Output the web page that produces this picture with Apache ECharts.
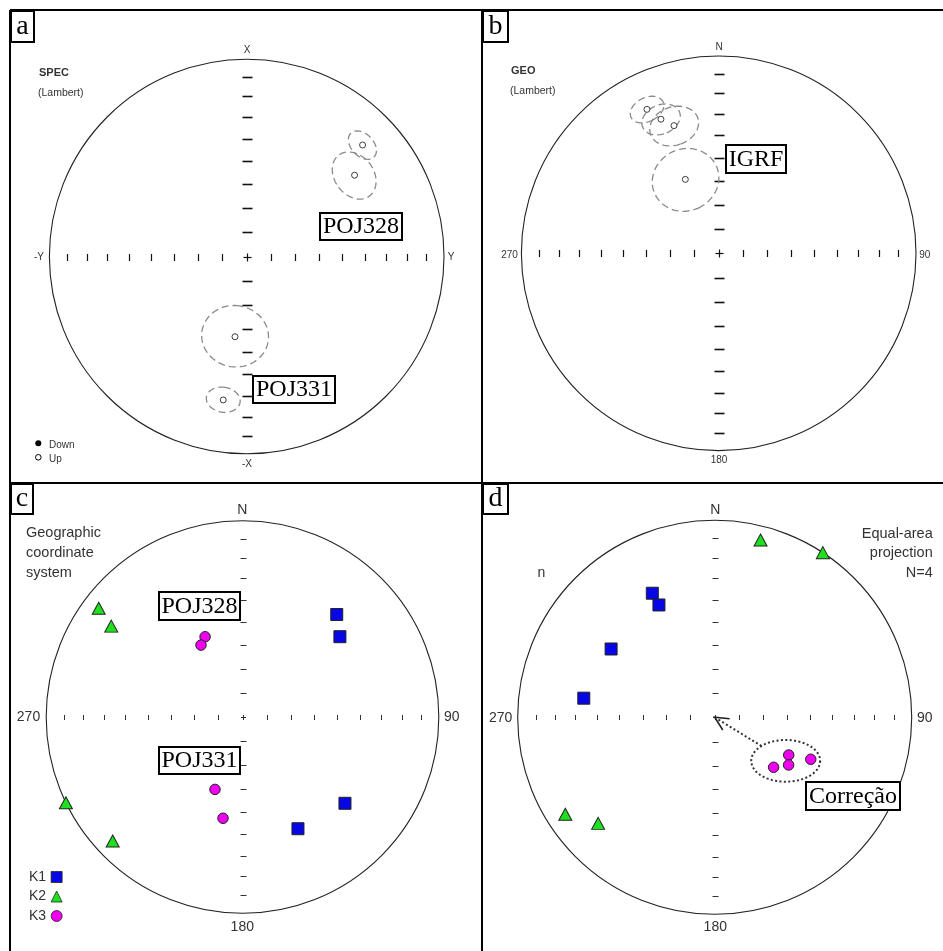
<!DOCTYPE html>
<html>
<head>
<meta charset="utf-8">
<title>Stereonets</title>
<script src="https://cdn.jsdelivr.net/npm/echarts@6/dist/echarts.min.js"></script>
<style>
  html, body { margin: 0; padding: 0; background: #fff; }
  #chart { width: 943px; height: 951px; }
</style>
</head>
<body>
<div id="chart"></div>
<script>
// ---- Site mean directions, specimen coordinates (a): declination, inclination (negative = up), alpha95
const specDec = [46.1, 53.0, 188.3, 189.3];
const specInc = [-19.6, -32.1, -56.2, -27.2];
const specA95 = [5.6, 9.2, 13.2, 6.0];

// ---- Same directions in geographic coordinates (b)
const geoDec = [333.5, 336.7, 340.7, 335.7];
const geoInc = [-19.6, -26.9, -32.0, -56.2];
const geoA95 = [6.0, 7.0, 9.0, 13.3];

// ---- AMS principal axes, geographic coordinate system (c)
const k1GeoDec = [42.6, 50.5, 130.1, 153.6];
const k1GeoInc = [29.8, 35.9, 32.3, 36.6];
const k2GeoDec = [307.1, 304.7, 244.1, 226.3];
const k2GeoInc = [9.0, 19.8, 0.0, 9.4];
const k3GeoDec = [335.0, 330.0, 200.8, 190.9];
const k3GeoInc = [52.8, 55.2, 57.6, 46.4];

// ---- AMS principal axes after correction (d)
const k1CorDec = [333.3, 333.6, 303.4, 278.3];
const k1CorInc = [30.2, 36.5, 37.1, 33.3];
const k2CorDec = [14.5, 33.3, 237.0, 227.7];
const k2CorInc = [7.8, 0.0, 10.5, 21.1];
const k3CorDec = [117.0, 122.8, 130.3, 113.6];
const k3CorInc = [55.3, 53.2, 57.8, 45.8];

// ---- Net graduations (inclination, degrees)
const tickInc = [10, 20, 30, 40, 50, 60, 70, 80];

const rad = Math.PI / 180;

// Lambert equal-area projection of a direction onto the unit net
function project(dec, inc) {
  const r = Math.SQRT2 * Math.sin((90 - Math.abs(inc)) / 2 * rad);
  return [r * Math.sin(dec * rad), r * Math.cos(dec * rad)];
}
function directions(decs, incs) {
  return decs.map((d, i) => project(d, incs[i]));
}
// Projected outline of the cone of confidence around a mean direction
function cone(dec, inc, a95) {
  const D = dec * rad, I = Math.abs(inc) * rad, A = a95 * rad;
  const v = [Math.cos(I) * Math.cos(D), Math.cos(I) * Math.sin(D), Math.sin(I)];
  const u1 = [-Math.sin(I) * Math.cos(D), -Math.sin(I) * Math.sin(D), Math.cos(I)];
  const u2 = [-Math.sin(D), Math.cos(D), 0];
  const pts = [];
  for (let k = 0; k <= 90; k++) {
    const t = k / 90 * 2 * Math.PI;
    const p = [0, 1, 2].map(j => v[j] * Math.cos(A) + (u1[j] * Math.cos(t) + u2[j] * Math.sin(t)) * Math.sin(A));
    const pi = Math.asin(Math.max(-1, Math.min(1, p[2]))) / rad;
    const pd = Math.atan2(p[1], p[0]) / rad;
    pts.push(project(pd, pi));
  }
  return pts;
}

// Square plotting areas, one per net
const nets = [
  { left: 49.4, top: 59.2, size: 394.6, heavy: true },
  { left: 521.4, top: 56.0, size: 394.6, heavy: true },
  { left: 46.2, top: 520.7, size: 392.6, heavy: false },
  { left: 517.7, top: 520.3, size: 394.0, heavy: false }
];

const SANS = 'Liberation Sans, Arial, sans-serif';
const SERIF = 'Liberation Serif, Times New Roman, serif';

const grid = nets.map(n => ({ left: n.left, top: n.top, width: n.size, height: n.size }));
const xAxis = nets.map((n, i) => ({ type: 'value', gridIndex: i, min: -1, max: 1, show: false }));
const yAxis = nets.map((n, i) => ({ type: 'value', gridIndex: i, min: -1, max: 1, show: false }));

// graduation marks: [x, y, kind]  kind 0 = on E-W line, 1 = on N-S line, 2 = centre cross
const tickData = [[0, 0, 2]];
tickInc.forEach(inc => {
  const r = project(0, inc)[1];
  tickData.push([r, 0, 0], [-r, 0, 0], [0, r, 1], [0, -r, 1]);
});

const series = [];
nets.forEach((n, i) => {
  // primitive circle
  series.push({
    type: 'custom', xAxisIndex: i, yAxisIndex: i, silent: true, z: 1,
    data: [[0, 0]],
    renderItem: (params, api) => {
      const c = api.coord([0, 0]);
      const r = api.size([1, 0])[0];
      return { type: 'circle', shape: { cx: c[0], cy: c[1], r: r },
        style: { fill: 'none', stroke: '#222', lineWidth: 1.1 } };
    }
  });
  // graduations
  const st = n.heavy
    ? { vLen: 7, hLen: 10, vW: 1.2, hW: 1.6, cross: 8, crossW: 1.2, color: '#111' }
    : { vLen: 5, hLen: 6, vW: 1, hW: 1, cross: 5, crossW: 1, color: '#333' };
  series.push({
    type: 'custom', xAxisIndex: i, yAxisIndex: i, silent: true, z: 1,
    data: tickData,
    renderItem: (params, api) => {
      const p = api.coord([api.value(0), api.value(1)]);
      const kind = api.value(2);
      const x = Math.round(p[0]) + 0.5, y = Math.round(p[1]) + 0.5;
      if (kind === 0) {
        return { type: 'line', shape: { x1: x, y1: y - st.vLen / 2, x2: x, y2: y + st.vLen / 2 },
          style: { stroke: st.color, lineWidth: st.vW } };
      }
      if (kind === 1) {
        return { type: 'line', shape: { x1: x - st.hLen / 2, y1: y, x2: x + st.hLen / 2, y2: y },
          style: { stroke: st.color, lineWidth: st.hW } };
      }
      const h = st.cross / 2;
      return { type: 'group', children: [
        { type: 'line', shape: { x1: x - h, y1: y, x2: x + h, y2: y }, style: { stroke: st.color, lineWidth: st.crossW } },
        { type: 'line', shape: { x1: x, y1: y - h, x2: x, y2: y + h }, style: { stroke: st.color, lineWidth: st.crossW } }
      ] };
    }
  });
});

// palaeomagnetic means with cones of confidence (a, b)
function addMeans(idx, decs, incs, a95s) {
  decs.forEach((d, k) => {
    series.push({
      type: 'line', xAxisIndex: idx, yAxisIndex: idx, silent: true, showSymbol: false, z: 2,
      data: cone(d, incs[k], a95s[k]),
      lineStyle: { color: '#8a8a8a', width: 1.3, type: [7, 4] }
    });
  });
  series.push({
    type: 'scatter', xAxisIndex: idx, yAxisIndex: idx, z: 3, symbol: 'circle', symbolSize: 6,
    data: directions(decs, incs),
    itemStyle: { color: '#fff', borderColor: '#111', borderWidth: 1 }
  });
}
addMeans(0, specDec, specInc, specA95);
addMeans(1, geoDec, geoInc, geoA95);

// AMS axes (c, d)
const axisStyle = {
  K1: { symbol: 'rect', symbolSize: 12, color: '#0707e6' },
  K2: { symbol: 'triangle', symbolSize: [13, 12], color: '#1fe01f' },
  K3: { symbol: 'circle', symbolSize: 10.5, color: '#f000f0' }
};
function addAxes(idx, sets) {
  Object.keys(sets).forEach(name => {
    const s = axisStyle[name];
    series.push({
      name: name, type: 'scatter', xAxisIndex: idx, yAxisIndex: idx, z: 3,
      symbol: s.symbol, symbolSize: s.symbolSize,
      data: directions(sets[name][0], sets[name][1]),
      itemStyle: { color: s.color, borderColor: '#222', borderWidth: 1, opacity: 1 }
    });
  });
}
addAxes(2, { K1: [k1GeoDec, k1GeoInc], K2: [k2GeoDec, k2GeoInc], K3: [k3GeoDec, k3GeoInc] });
addAxes(3, { K1: [k1CorDec, k1CorInc], K2: [k2CorDec, k2CorInc], K3: [k3CorDec, k3CorInc] });

// dotted envelope around the corrected K3 cluster, with an arrow to the vertical
const k3Cor = directions(k3CorDec, k3CorInc);
const k3Mean = [0, 1].map(j => k3Cor.reduce((s, p) => s + p[j], 0) / k3Cor.length);
series.push({
  type: 'custom', xAxisIndex: 3, yAxisIndex: 3, silent: true, z: 2, clip: false,
  data: [[k3Mean[0] - 0.024, k3Mean[1] + 0.004]],
  renderItem: (params, api) => {
    const c = api.coord([api.value(0), api.value(1)]);
    const o = api.coord([0, 0]);
    const sz = api.size([0.175, 0.106]);
    const rx = sz[0], ry = sz[1];
    const ring = [];
    for (let k = 0; k <= 120; k++) {
      const t = k / 120 * 2 * Math.PI;
      ring.push([c[0] + rx * Math.cos(t), c[1] + ry * Math.sin(t)]);
    }
    const dx = o[0] - c[0], dy = o[1] - c[1];
    const s = 1 / Math.sqrt((dx / rx) ** 2 + (dy / ry) ** 2);
    const start = [c[0] + dx * s, c[1] + dy * s];
    const ang = Math.atan2(start[1] - o[1], start[0] - o[0]);
    const arm = 15, spread = 26 * rad;
    const head = [
      [o[0] + arm * Math.cos(ang - spread), o[1] + arm * Math.sin(ang - spread)],
      [o[0], o[1]],
      [o[0] + arm * Math.cos(ang + spread), o[1] + arm * Math.sin(ang + spread)]
    ];
    const dotted = { fill: 'none', stroke: '#333', lineWidth: 2, lineDash: [2, 2.4] };
    return { type: 'group', children: [
      { type: 'polyline', shape: { points: ring }, style: dotted },
      { type: 'line', shape: { x1: start[0], y1: start[1], x2: o[0] + 3 * Math.cos(ang), y2: o[1] + 3 * Math.sin(ang) }, style: dotted },
      { type: 'polyline', shape: { points: head }, style: { fill: 'none', stroke: '#222', lineWidth: 1.6 } }
    ] };
  }
});

// ---- text and frame elements
const g = [];
function txt(text, x, y, size, opts) {
  opts = opts || {};
  g.push({
    type: 'text', x: x, y: y, z: opts.z || 50,
    style: { text: text, font: (opts.weight ? opts.weight + ' ' : '') + size + 'px ' + (opts.serif ? SERIF : SANS),
      fill: opts.color || '#333', textAlign: opts.align || 'center', textVerticalAlign: 'middle' }
  });
}
function line(x1, y1, x2, y2, w) {
  g.push({ type: 'line', z: 60, shape: { x1, y1, x2, y2 }, style: { stroke: '#000', lineWidth: w } });
}
function box(label, x0, y0, x1, y1, size) {
  g.push({ type: 'rect', z: 40, shape: { x: x0 + 1, y: y0 + 1, width: x1 - x0 - 2, height: y1 - y0 - 2 },
    style: { fill: '#fff', stroke: '#000', lineWidth: 2 } });
  txt(label, (x0 + x1) / 2, (y0 + y1) / 2 + 0.5, size, { serif: true, color: '#000' });
}

// panel frame
line(10, 10, 943, 10, 2);
line(10, 10, 10, 951, 2);
line(482, 10, 482, 951, 2);
line(10, 483, 943, 483, 2);

// panel letters
[['a', 10, 10, 35, 43], ['b', 482, 10, 509, 43], ['c', 10, 483, 34, 515], ['d', 482, 483, 509, 515]].forEach(p => {
  g.push({ type: 'rect', z: 61, shape: { x: p[1] + 1, y: p[2] + 1, width: p[3] - p[1] - 2, height: p[4] - p[2] - 2 },
    style: { fill: '#fff', stroke: '#000', lineWidth: 2 } });
  txt(p[0], (p[1] + p[3]) / 2, p[4] - 8 - 0.34 * 28 + 1, 28, { serif: true, color: '#000', z: 62 });
});

// panel a
txt('SPEC', 39, 73, 11, { align: 'left', weight: 'bold' });
txt('(Lambert)', 38, 93, 10.5, { align: 'left' });
txt('X', 247, 50, 10);
txt('-X', 247, 464, 10);
txt('-Y', 39, 257, 10);
txt('Y', 451, 257, 10);
g.push({ type: 'circle', z: 50, shape: { cx: 38.3, cy: 443.3, r: 3 }, style: { fill: '#000' } });
g.push({ type: 'circle', z: 50, shape: { cx: 38.3, cy: 457.3, r: 2.8 }, style: { fill: '#fff', stroke: '#000', lineWidth: 1 } });
txt('Down', 49, 445.5, 10, { align: 'left' });
txt('Up', 49, 459.5, 10, { align: 'left' });
box('POJ328', 319, 212, 403, 241, 24);
box('POJ331', 252, 375, 336, 404, 24);

// panel b
txt('GEO', 511, 70.7, 11, { align: 'left', weight: 'bold' });
txt('(Lambert)', 510, 91, 10.5, { align: 'left' });
txt('N', 719, 47.7, 10);
txt('270', 509.5, 255.7, 10);
txt('90', 924.7, 255.7, 10);
txt('180', 719, 460.7, 10);
box('IGRF', 725, 144, 787, 174, 24);

// panel c
txt('Geographic', 26, 533.3, 14.5, { align: 'left' });
txt('coordinate', 26, 553, 14.5, { align: 'left' });
txt('system', 26, 572.7, 14.5, { align: 'left' });
txt('N', 242.3, 510, 14);
txt('270', 28.5, 717, 14);
txt('90', 451.8, 717, 14);
txt('180', 242.3, 926.7, 14);
box('POJ328', 158, 591, 241, 621, 24);
box('POJ331', 158, 746, 241, 775, 24);

// panel d
txt('N', 715.3, 510.5, 14);
txt('Equal-area', 932.7, 534, 14.5, { align: 'right' });
txt('projection', 932.7, 553.3, 14.5, { align: 'right' });
txt('N=4', 932.7, 572.7, 14.5, { align: 'right' });
txt('n', 541.3, 573.3, 14);
txt('270', 500.7, 718.3, 14);
txt('90', 924.8, 718.3, 14);
txt('180', 715.3, 927.3, 14);
box('Correção', 805, 781, 901, 811, 24);

const chart = echarts.init(document.getElementById('chart'), null, { renderer: 'canvas' });
chart.setOption({
  animation: false,
  backgroundColor: '#fff',
  grid: grid,
  xAxis: xAxis,
  yAxis: yAxis,
  legend: {
    data: ['K1', 'K2', 'K3'],
    orient: 'vertical', left: 29, top: 870, align: 'right', padding: 0,
    itemWidth: 11, itemHeight: 11, itemGap: 5.5, selectedMode: false,
    itemStyle: { borderWidth: 0.8 },
    textStyle: { fontSize: 14, color: '#333', fontFamily: SANS }
  },
  series: series,
  graphic: g
});
</script>
</body>
</html>
